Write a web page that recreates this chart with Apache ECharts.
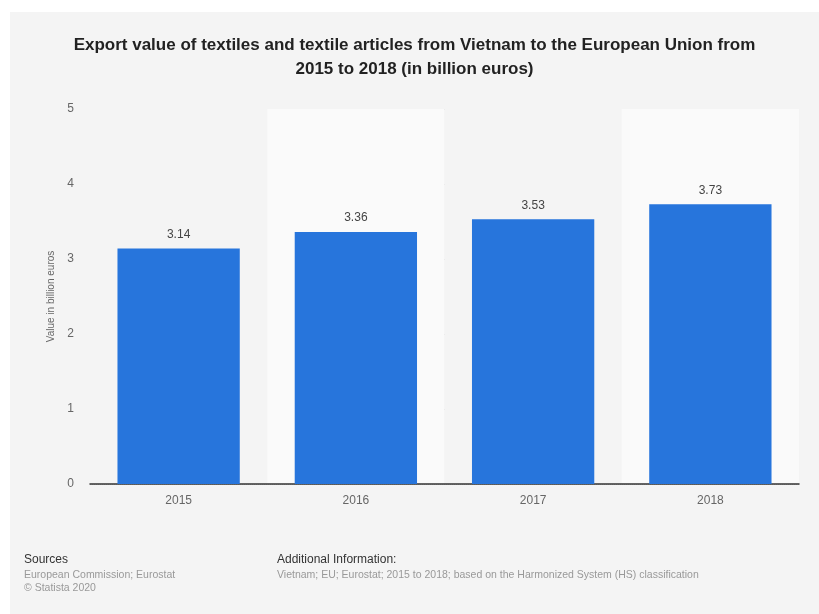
<!DOCTYPE html>
<html>
<head>
<meta charset="utf-8">
<script src="https://cdn.jsdelivr.net/npm/echarts@6/dist/echarts.min.js"></script>
<style>
  html, body { margin: 0; padding: 0; background: #fff; }
  #wrap { position: relative; width: 819px; height: 614px; }
  #chart { position: absolute; left: 10px; top: 12px; width: 809px; height: 602px; }
</style>
</head>
<body>
<div id="wrap"><div id="chart"></div></div>
<script>
// data
const years = ["2015", "2016", "2017", "2018"];
const exportValues = [3.14, 3.36, 3.53, 3.73];
const yTicks = { min: 0, max: 5, step: 1 };

const chart = echarts.init(document.getElementById("chart"));

const options = {
  backgroundColor: "#f4f4f4",
  animation: false,
  textStyle: { fontFamily: "Liberation Sans, Arial, sans-serif" },
  title: {
    text: "Export value of textiles and textile articles from Vietnam to the European Union from\n2015 to 2018 (in billion euros)",
    left: "center",
    top: 16,
    textStyle: {
      fontSize: 17,
      fontWeight: "bold",
      color: "#222",
      lineHeight: 24,
      fontFamily: "Liberation Sans, Arial, sans-serif",
    },
  },
  grid: { left: 80, right: 20, top: 97, bottom: 130 },
  xAxis: {
    type: "category",
    data: years,
    axisTick: { show: false },
    axisLine: { lineStyle: { color: "#333", width: 1.5 } },
    axisLabel: { color: "#666", fontSize: 12, margin: 11 },
    splitArea: {
      show: true,
      areaStyle: { color: ["#f4f4f4", "#fafafa"] },
    },
  },
  yAxis: {
    type: "value",
    min: yTicks.min,
    max: yTicks.max,
    interval: yTicks.step,
    name: "Value in billion euros",
    nameLocation: "middle",
    nameGap: 31,
    nameTextStyle: { color: "#666", fontSize: 10 },
    axisLabel: { color: "#666", fontSize: 12, margin: 16 },
    axisLine: { show: false },
    axisTick: { show: false },
    splitLine: { lineStyle: { color: "#cfcfcf", type: [1, 1] } },
  },
  series: [
    {
      type: "bar",
      data: exportValues,
      barCategoryGap: "31%",
      itemStyle: { color: "#2775dc" },
      label: {
        show: true,
        position: "top",
        distance: 8,
        color: "#444",
        fontSize: 12,
        formatter: (p) => p.value.toFixed(2),
      },
    },
  ],
  graphic: [
    {
      type: "text", left: 14, top: 542,
      style: { text: "Sources", fill: "#333", fontSize: 12, fontFamily: "Liberation Sans, Arial" },
    },
    {
      type: "text", left: 14, top: 557,
      style: {
        text: "European Commission; Eurostat\n© Statista 2020",
        fill: "#999", fontSize: 10.5, lineHeight: 13, fontFamily: "Liberation Sans, Arial",
      },
    },
    {
      type: "text", left: 267, top: 542,
      style: { text: "Additional Information:", fill: "#333", fontSize: 12, fontFamily: "Liberation Sans, Arial" },
    },
    {
      type: "text", left: 267, top: 557,
      style: {
        text: "Vietnam; EU; Eurostat; 2015 to 2018; based on the Harmonized System (HS) classification",
        fill: "#999", fontSize: 10.5, lineHeight: 13, fontFamily: "Liberation Sans, Arial",
      },
    },
  ],
};

chart.setOption(options);
</script>
</body>
</html>
